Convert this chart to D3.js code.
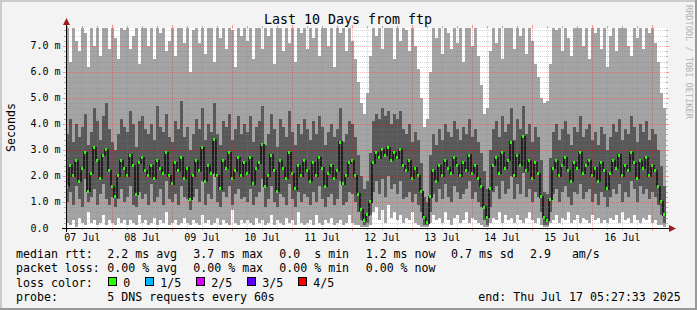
<!DOCTYPE html>
<html><head><meta charset="utf-8">
<script src="https://cdn.jsdelivr.net/npm/d3@7/dist/d3.min.js"></script>
<style>
body{margin:0;background:#f3f3f3;overflow:hidden}
text{font-family:"DejaVu Sans Mono",monospace;fill:#000}
</style>
</head><body>
<svg id="chart" width="697" height="310"></svg>
<script>
// ---------------- data ----------------
const title = "Last 10 Days from ftp";
const startTime = new Date(2025, 6, 7, 5, 27, 33);
const endTime = new Date(2025, 6, 17, 5, 27, 33);
const stepMinutes = 72; // one sample per 72 min, 200 samples
const yMax = 7.69;
const yTickValues = [0, 1, 2, 3, 4, 5, 6, 7];
const yTickLabels = ["0.0", "1.0 m", "2.0 m", "3.0 m", "4.0 m", "5.0 m", "6.0 m", "7.0 m"];
const dayLabels = ["07 Jul", "08 Jul", "09 Jul", "10 Jul", "11 Jul", "12 Jul", "13 Jul", "14 Jul", "15 Jul", "16 Jul"];

// smoke: lowest ping, 2nd ping, median, 4th ping, highest ping (ms)
const pingLo = [
0.2,0.1,0.3,0.05,0.4,0.2,0.1,0.6,0.2,0.3,0.1,0.2,0.5,0.1,0.3,0.2,0.1,0.4,0.2,0.3,
0.1,0.3,0.2,0.1,0.5,0.2,0.3,0.1,0.2,0.4,0.1,0.3,0.2,0.6,0.1,0.2,0.3,0.1,0.2,0.4,
0.2,0.1,0.3,0.2,0.1,0.5,0.2,0.3,0.1,0.2,0.4,0.1,0.3,0.2,0.1,0.7,0.2,0.1,0.3,0.2,
0.3,0.2,0.1,0.4,0.2,0.3,0.1,0.2,0.5,0.1,0.3,0.2,0.1,0.4,0.2,0.3,0.1,0.6,0.2,0.1,
0.2,0.3,0.1,0.5,0.2,0.1,0.3,0.2,0.4,0.1,0.2,0.3,0.1,0.2,0.5,0.2,0.1,0.1,0.05,0.05,
0.05,0.1,0.6,0.8,0.3,0.7,0.2,0.9,0.4,0.6,0.3,0.5,0.2,0.4,0.3,0.6,0.2,0.1,0.05,0.05,
0.05,0.2,0.5,0.3,0.4,0.2,0.6,0.3,0.1,0.4,0.5,0.2,0.3,0.6,0.2,0.4,0.3,0.2,0.1,0.05,
0.05,0.2,0.4,0.3,0.6,0.2,0.5,0.3,0.4,0.2,0.5,0.3,0.2,0.4,0.6,0.3,0.2,0.4,0.1,0.05,
0.05,0.2,0.3,0.5,0.2,0.4,0.3,0.6,0.2,0.3,0.5,0.2,0.4,0.3,0.2,0.5,0.3,0.4,0.2,0.3,
0.2,0.4,0.3,0.5,0.2,0.6,0.3,0.4,0.2,0.5,0.3,0.2,0.4,0.3,0.5,0.2,0.3,0.1,0.1,0.05];
const ping2 = [
1.0,1.4,0.9,1.6,1.1,0.8,1.9,1.0,1.2,1.5,0.9,1.3,1.7,1.1,0.9,1.2,0.8,1.1,1.5,1.0,
1.2,1.6,0.9,0.8,1.4,1.1,1.3,0.9,1.7,1.0,1.2,1.5,0.9,1.8,1.1,1.0,1.3,0.9,1.6,1.2,
1.1,0.7,1.2,1.5,1.0,1.8,0.9,1.3,1.1,2.1,1.0,0.8,1.4,1.2,1.6,0.9,1.3,1.5,1.1,1.2,
1.0,1.5,0.9,1.2,1.4,1.9,0.8,1.1,1.6,1.0,0.8,1.3,1.2,0.9,1.7,1.1,0.8,1.4,1.0,1.3,
1.2,0.9,1.4,1.0,1.6,1.1,0.8,1.2,1.3,0.9,1.1,1.8,0.9,1.0,1.4,1.3,1.0,0.6,0.3,0.1,
0.2,0.5,1.4,1.8,1.3,1.9,1.2,2.0,1.5,1.7,1.3,1.8,1.1,1.2,1.4,1.0,1.3,0.9,0.6,0.1,
0.1,0.6,1.3,1.0,1.5,1.1,1.7,1.2,1.0,1.6,1.4,1.1,1.3,1.5,1.8,1.1,1.4,1.0,0.8,0.3,
0.1,0.8,1.4,1.6,1.1,1.8,1.3,1.5,2.0,1.1,1.7,1.3,2.1,1.2,1.5,1.0,1.4,1.2,0.6,0.1,
0.1,0.6,1.3,1.5,1.0,1.4,1.6,1.2,0.9,1.4,1.3,1.7,1.1,1.4,1.5,1.0,1.3,0.9,1.4,1.2,
0.8,1.2,1.5,1.3,1.7,1.0,1.4,1.2,1.8,1.5,1.0,1.6,1.3,1.5,1.1,1.4,1.2,0.9,0.5,0.2];
const medianRtt = [
1.6,2.4,2.0,2.6,1.8,2.3,2.9,1.4,2.1,3.1,2.6,1.9,2.8,3.0,2.2,1.6,1.2,2.0,2.6,2.3,
2.0,2.8,2.4,1.3,2.5,2.7,2.2,2.0,2.4,1.9,2.6,2.3,2.1,2.9,2.0,1.7,2.5,2.2,2.7,1.9,
2.3,1.1,2.0,2.6,2.2,3.1,1.8,2.4,2.1,3.4,2.0,1.5,2.6,2.3,2.9,1.9,2.2,2.7,2.0,2.5,
2.1,2.7,1.7,2.3,2.5,3.2,1.6,2.0,2.8,2.2,1.4,2.6,2.3,1.9,2.9,2.1,1.5,2.4,2.0,2.6,
2.2,1.8,2.5,2.0,2.7,2.3,1.6,2.1,2.4,1.9,2.2,3.3,1.7,2.0,2.5,2.6,2.0,1.3,0.7,0.3,
0.5,1.0,2.5,2.9,2.7,3.0,2.8,3.1,2.6,2.9,2.7,3.0,2.4,2.2,2.6,1.9,2.3,2.0,1.4,0.4,
0.2,1.2,2.2,1.8,2.4,2.0,2.6,2.3,2.1,2.7,2.4,2.0,2.5,2.2,2.8,2.1,2.4,1.9,1.6,0.8,
0.4,1.5,2.4,2.7,2.1,2.9,2.3,2.6,3.3,2.0,2.8,2.4,3.5,2.2,2.6,1.9,2.5,2.1,1.2,0.4,
0.3,1.1,2.3,2.6,2.0,2.4,2.7,2.2,1.8,2.5,2.3,2.9,2.1,2.4,2.6,2.0,2.3,1.8,2.5,2.2,
1.5,2.1,2.6,2.3,2.8,2.0,2.4,2.2,2.9,2.5,1.9,2.6,2.3,2.7,2.0,2.4,2.2,1.6,1.0,0.5];
const ping4 = [
3.6,4.2,3.3,4.0,3.5,3.9,4.4,3.2,3.7,4.6,4.1,3.4,4.3,4.8,3.8,3.3,3.0,3.6,4.2,3.9,
3.7,4.5,4.0,3.1,4.1,4.3,3.8,3.6,4.0,3.4,4.7,3.9,3.7,4.4,3.5,3.3,4.1,3.8,4.9,3.5,
3.9,3.0,3.6,4.2,3.8,4.6,3.4,4.0,3.7,4.8,3.6,3.2,4.1,3.9,4.4,3.4,3.8,4.3,3.6,4.0,
3.7,4.3,3.3,3.9,4.1,4.7,3.2,3.6,4.4,3.8,3.1,4.2,3.9,3.5,4.5,3.7,3.2,4.0,3.6,4.2,
3.8,3.4,4.1,3.6,4.3,3.9,3.2,3.7,4.0,3.5,3.8,4.6,3.3,3.6,4.1,4.0,3.5,2.8,2.0,1.5,
1.8,2.9,4.1,4.4,4.2,4.6,4.3,4.5,4.0,4.4,4.2,4.5,3.8,3.6,4.0,3.3,3.7,3.4,2.5,1.2,
1.0,2.8,3.6,3.2,3.8,3.4,4.0,3.7,3.5,4.1,3.8,3.4,3.9,3.6,4.2,3.5,3.8,3.3,2.9,2.2,
1.5,3.0,3.8,4.1,3.5,4.3,3.7,4.0,4.6,3.4,4.2,3.8,4.7,3.6,4.0,3.3,3.9,3.5,2.6,1.4,
1.3,2.7,3.7,4.0,3.4,3.8,4.1,3.6,3.2,3.9,3.7,4.3,3.5,3.8,4.0,3.4,3.7,3.2,3.9,3.6,
3.0,3.5,4.0,3.7,4.2,3.4,3.8,3.6,4.3,3.9,3.3,4.0,3.7,4.1,3.4,3.8,3.6,3.0,2.4,1.6];
const pingHi = [
7.9,6.4,8.0,7.2,6.8,8.0,7.5,6.2,8.0,7.0,8.0,6.6,7.8,8.0,6.9,8.0,7.3,6.5,8.0,7.6,
8.0,6.9,7.4,8.0,6.3,8.0,7.7,7.0,8.0,6.5,8.0,7.5,8.0,6.8,7.2,8.0,6.6,8.0,7.9,7.1,
8.0,6.0,7.6,8.0,7.1,8.0,6.7,7.9,8.0,6.4,8.0,7.3,8.0,6.9,8.0,7.6,6.2,8.0,7.4,8.0,
7.2,8.0,6.5,8.0,7.8,6.9,8.0,7.4,8.0,6.3,8.0,7.7,6.8,8.0,7.1,8.0,6.4,8.0,7.5,8.0,
6.9,8.0,7.3,8.0,6.6,8.0,7.8,7.0,8.0,6.2,8.0,7.5,8.0,6.8,8.0,7.2,6.5,5.6,4.8,4.4,
5.2,6.6,8.0,7.4,8.0,6.9,8.0,7.7,8.0,6.5,8.0,7.2,8.0,7.6,6.8,8.0,7.0,6.1,5.0,3.9,
4.2,6.0,8.0,7.3,8.0,6.7,8.0,7.5,6.9,8.0,7.1,8.0,6.4,8.0,7.8,7.0,8.0,6.6,5.5,4.4,
4.6,6.8,8.0,7.1,8.0,6.5,8.0,7.7,8.0,6.9,8.0,7.4,8.0,6.7,8.0,7.2,6.3,5.8,5.0,4.8,
4.9,6.3,8.0,7.6,8.0,6.8,8.0,7.3,6.6,8.0,7.9,8.0,7.0,8.0,6.5,8.0,7.5,8.0,6.9,8.0,
6.2,7.4,8.0,6.8,8.0,7.7,8.0,7.0,6.6,8.0,7.3,8.0,6.9,8.0,7.5,8.0,7.1,6.4,5.2,4.6];

const legendRtt = [["median rtt:",16],["2.2 ms avg",107.3],["3.7 ms max",193.3],["0.0  s min",279.3],["1.2 ms now",365.7],["0.7 ms sd",451],["2.9   am/s",530]];
const legendLoss = [["packet loss:",16],["0.00 % avg",107.3],["0.00 % max",193.3],["0.00 % min",279.3],["0.00 % now",365.7]];
const lossLabels = ["0", "1/5", "2/5", "3/5", "4/5"];
const lossColors = ["#26ff00", "#00b8ff", "#dd00ff", "#5e00ff", "#ff0000"];
const lossBoxX = [108.5, 145.5, 196.5, 247.5, 298.5];
const probeText = "5 DNS requests every 60s";
const endText = "end: Thu Jul 17 05:27:33 2025";

// ---------------- drawing ----------------
const svg = d3.select("#chart");
const W = 697, H = 310;
const X0 = 66, X1 = 666, Y0 = 228, Y1 = 28;

svg.append("rect").attr("x",0).attr("y",0).attr("width",W).attr("height",H).attr("fill","#f3f3f3");
// frame
svg.append("rect").attr("x",0).attr("y",0).attr("width",W).attr("height",2).attr("fill","#cbcbcb");
svg.append("rect").attr("x",0).attr("y",0).attr("width",2).attr("height",H).attr("fill","#cbcbcb");
svg.append("rect").attr("x",0).attr("y",H-2).attr("width",W).attr("height",2).attr("fill","#999");
svg.append("rect").attr("x",W-2).attr("y",0).attr("width",2).attr("height",H).attr("fill","#999");

const x = d3.scaleTime().domain([startTime, endTime]).range([X0, X1]);
const y = d3.scaleLinear().domain([0, yMax]).range([Y0, Y1]);

svg.append("defs").append("clipPath").attr("id","plotclip")
  .append("rect").attr("x",X0).attr("y",Y1).attr("width",X1-X0).attr("height",Y0-Y1);

svg.append("rect").attr("x",X0).attr("y",Y1).attr("width",X1-X0).attr("height",Y0-Y1).attr("fill","#fff");

const n = medianRtt.length;
const samples = d3.range(n).map(i => ({
  t0: new Date(+startTime + i*stepMinutes*60000),
  t1: new Date(+startTime + (i+1)*stepMinutes*60000),
  lo: pingLo[i], p2: ping2[i], med: medianRtt[i], p4: ping4[i], hi: pingHi[i]
}));

const g = svg.append("g").attr("clip-path","url(#plotclip)").attr("shape-rendering","crispEdges");
g.selectAll("rect.l1").data(samples).join("rect").attr("class","l1")
  .attr("x", d => x(d.t0)).attr("width", d => x(d.t1)-x(d.t0))
  .attr("y", d => y(d.hi)).attr("height", d => y(d.lo)-y(d.hi)).attr("fill","#a4a4a4");
g.selectAll("rect.l2").data(samples).join("rect").attr("class","l2")
  .attr("x", d => x(d.t0)).attr("width", d => x(d.t1)-x(d.t0))
  .attr("y", d => y(d.p4)).attr("height", d => y(d.p2)-y(d.p4)).attr("fill","#585858");

// median step line
const stepLine = d3.line().x(d => x(d.t)).y(d => y(d.v)).curve(d3.curveStepAfter);
const medPts = samples.map(d => ({t:d.t0, v:d.med})).concat([{t:endTime, v:medianRtt[n-1]}]);
g.append("path").attr("d", stepLine(medPts)).attr("fill","none").attr("stroke","#202020").attr("stroke-width",1.6);
// loss colour marks
g.selectAll("rect.me").data(samples).join("rect").attr("class","me")
  .attr("x", d => x(d.t0)).attr("width", d => Math.max(1, x(d.t1)-x(d.t0)-1))
  .attr("y", d => y(d.med)-1.5).attr("height", 3).attr("fill", lossColors[0]);

// grids
const grid = svg.append("g").attr("shape-rendering","crispEdges");
const minorY = d3.range(1, 39).filter(k => k % 5 !== 0).map(k => k*0.2);
grid.selectAll("line.mhy").data(minorY).join("line")
  .attr("x1",X0).attr("x2",X1).attr("y1",d=>Math.round(y(d))+0.5).attr("y2",d=>Math.round(y(d))+0.5)
  .attr("stroke","rgba(130,130,130,0.35)").attr("stroke-dasharray","1,1");
grid.selectAll("line.tky").data(minorY).join("line")
  .attr("x1",X0-2).attr("x2",X0).attr("y1",d=>Math.round(y(d))+0.5).attr("y2",d=>Math.round(y(d))+0.5)
  .attr("stroke","rgba(130,130,130,0.6)");
grid.selectAll("line.tky2").data(minorY).join("line")
  .attr("x1",X1).attr("x2",X1+2).attr("y1",d=>Math.round(y(d))+0.5).attr("y2",d=>Math.round(y(d))+0.5)
  .attr("stroke","rgba(130,130,130,0.6)");
const midnights = d3.timeDay.range(startTime, endTime);
const sixHours = d3.timeHour.every(6).range(startTime, endTime).filter(d => d.getHours() !== 0);
grid.selectAll("line.mvx").data(sixHours).join("line")
  .attr("x1",d=>Math.round(x(d))+0.5).attr("x2",d=>Math.round(x(d))+0.5).attr("y1",Y1).attr("y2",Y0)
  .attr("stroke","rgba(130,130,130,0.35)").attr("stroke-dasharray","1,1");
grid.selectAll("line.tkx").data(sixHours).join("line")
  .attr("x1",d=>Math.round(x(d))+0.5).attr("x2",d=>Math.round(x(d))+0.5).attr("y1",Y0).attr("y2",Y0+2)
  .attr("stroke","rgba(130,130,130,0.6)");
grid.selectAll("line.tkx2").data(sixHours).join("line")
  .attr("x1",d=>Math.round(x(d))+0.5).attr("x2",d=>Math.round(x(d))+0.5).attr("y1",Y1-2).attr("y2",Y1)
  .attr("stroke","rgba(130,130,130,0.6)");
// major
grid.selectAll("line.My").data(yTickValues.slice(1)).join("line")
  .attr("x1",X0).attr("x2",X1).attr("y1",d=>Math.round(y(d))+0.5).attr("y2",d=>Math.round(y(d))+0.5)
  .attr("stroke","rgba(255,0,0,0.27)").attr("stroke-dasharray","1,1");
grid.selectAll("line.Mtky").data(yTickValues.slice(1)).join("line")
  .attr("x1",X0-3).attr("x2",X0).attr("y1",d=>Math.round(y(d))+0.5).attr("y2",d=>Math.round(y(d))+0.5)
  .attr("stroke","rgba(255,0,0,0.4)");
grid.selectAll("line.Mtky2").data(yTickValues.slice(1)).join("line")
  .attr("x1",X1).attr("x2",X1+3).attr("y1",d=>Math.round(y(d))+0.5).attr("y2",d=>Math.round(y(d))+0.5)
  .attr("stroke","rgba(255,0,0,0.4)");
grid.selectAll("line.Mx").data(midnights).join("line")
  .attr("x1",d=>Math.round(x(d))+0.5).attr("x2",d=>Math.round(x(d))+0.5).attr("y1",Y1).attr("y2",Y0)
  .attr("stroke","rgba(255,0,0,0.3)").attr("stroke-dasharray","1,1");
grid.selectAll("line.Mtkx").data(midnights).join("line")
  .attr("x1",d=>Math.round(x(d))+0.5).attr("x2",d=>Math.round(x(d))+0.5).attr("y1",Y0).attr("y2",Y0+3)
  .attr("stroke","rgba(255,0,0,0.4)");
grid.selectAll("line.Mtkx2").data(midnights).join("line")
  .attr("x1",d=>Math.round(x(d))+0.5).attr("x2",d=>Math.round(x(d))+0.5).attr("y1",Y1-3).attr("y2",Y1)
  .attr("stroke","rgba(255,0,0,0.4)");

// axes
svg.append("line").attr("x1",X0-4).attr("x2",X1+4).attr("y1",Y0+0.5).attr("y2",Y0+0.5).attr("stroke","#000");
svg.append("line").attr("x1",X0+0.5).attr("x2",X0+0.5).attr("y1",Y0+4).attr("y2",Y1-4).attr("stroke","#000");
svg.append("path").attr("d",`M${X1+3},${Y0-3} L${X1+10},${Y0+0.5} L${X1+3},${Y0+4} Z`).attr("fill","#9b1c1c");
svg.append("path").attr("d",`M${X0-3},${Y1-3} L${X0+0.5},${Y1-10} L${X0+4},${Y1-3} Z`).attr("fill","#9b1c1c");

// y labels
svg.selectAll("text.yl").data(yTickValues).join("text")
  .attr("x",30.5).attr("y",d=>y(d)+3.5).style("font-size","10px").style("white-space","pre")
  .text((d,i)=>yTickLabels[i]);
// x labels at noon
const noons = midnights.map(d => d3.timeHour.offset(d, -12)).concat([d3.timeHour.offset(midnights[midnights.length-1], 12)]);
svg.selectAll("text.xl").data(dayLabels).join("text")
  .attr("x",(d,i)=>x(noons[i])).attr("y",241).attr("text-anchor","middle").style("font-size","10px")
  .text(d=>d);

// title
svg.append("text").attr("x",348).attr("y",23.5).attr("text-anchor","middle").style("font-size","13.3px").text(title);
// y axis title
svg.append("text").attr("transform","translate(15,127.5) rotate(-90)").attr("text-anchor","middle").style("font-size","11.6px").text("Seconds");
// watermark
svg.append("text").attr("transform","translate(685.5,5) rotate(90)").style("font-size","8.6px").style("fill","#b4b4b4").text("RRDTOOL / TOBI OETIKER");

// legend
const LF = "11.6px";
svg.selectAll("text.lg1").data(legendRtt).join("text").attr("x",d=>d[1]).attr("y",258).style("font-size",LF).style("white-space","pre").text(d=>d[0]);
svg.selectAll("text.lg2").data(legendLoss).join("text").attr("x",d=>d[1]).attr("y",272.3).style("font-size",LF).style("white-space","pre").text(d=>d[0]);
svg.append("text").attr("x",16).attr("y",286.5).style("font-size",LF).text("loss color:");
lossLabels.forEach((l,i)=>{
  svg.append("rect").attr("x",lossBoxX[i]).attr("y",277.5).attr("width",8).attr("height",8)
    .attr("fill",lossColors[i]).attr("stroke","#000").attr("stroke-width",1);
  svg.append("text").attr("x",lossBoxX[i]+14.8).attr("y",286.5).style("font-size",LF).text(l);
});
svg.append("text").attr("x",16).attr("y",300.5).style("font-size",LF).text("probe:");
svg.append("text").attr("x",107.3).attr("y",300.5).style("font-size",LF).text(probeText);
svg.append("text").attr("x",478.3).attr("y",300.5).style("font-size",LF).text(endText);
</script>
</body></html>
